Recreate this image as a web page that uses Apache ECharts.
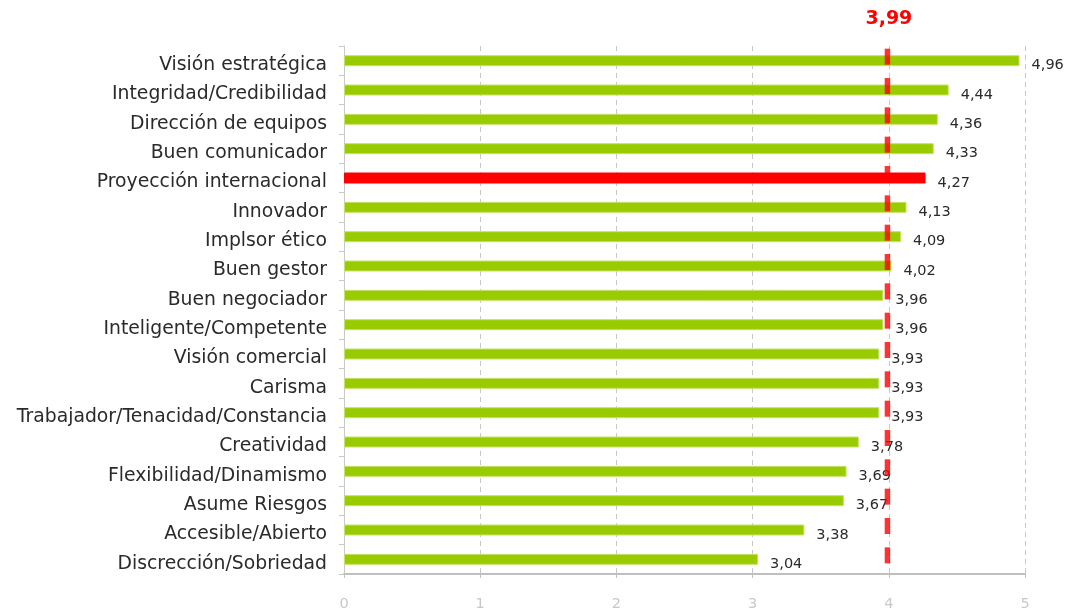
<!DOCTYPE html>
<html><head><meta charset="utf-8">
<script src="https://cdn.jsdelivr.net/npm/echarts@6/dist/echarts.min.js"></script>
<style>html,body{margin:0;padding:0;background:#fff}#c{width:1068px;height:612px}</style>
</head><body><div id="c"></div>
<script>
const categories = ["Visión estratégica","Integridad/Credibilidad","Dirección de equipos","Buen comunicador","Proyección internacional","Innovador","Implsor ético","Buen gestor","Buen negociador","Inteligente/Competente","Visión comercial","Carisma","Trabajador/Tenacidad/Constancia","Creatividad","Flexibilidad/Dinamismo","Asume Riesgos","Accesible/Abierto","Discrección/Sobriedad"];
const values = [4.96,4.44,4.36,4.33,4.27,4.13,4.09,4.02,3.96,3.96,3.93,3.93,3.93,3.78,3.69,3.67,3.38,3.04];
const highlighted = ["Proyección internacional"];
const average = 3.99;
const xTicks = [0,1,2,3,4,5];

const FONT = '"DejaVu Sans", Verdana, sans-serif';
const fmt = v => v.toFixed(2).replace('.', ',');
const chart = echarts.init(document.getElementById('c'));
chart.setOption({
  animation: false,
  grid: {left: 344, right: 43, top: 46, height: 529, containLabel: false},
  xAxis: {
    type: 'value', min: xTicks[0], max: xTicks[xTicks.length-1], interval: 1,
    axisLine: {show: true, onZero: false, lineStyle: {color: '#bfbfbf', width: 2}},
    axisTick: {show: true, length: 4, lineStyle: {color: '#bfbfbf'}},
    axisLabel: {color: '#c8c8c8', fontSize: 14.5, fontFamily: FONT, margin: 23},
    splitLine: {show: true, lineStyle: {color: '#c8c8c8', type: [5, 4], width: 1}}
  },
  yAxis: {
    type: 'category', data: categories, inverse: true,
    axisLine: {show: true, lineStyle: {color: '#c8c8c8', width: 1}},
    axisTick: {show: true, length: 5, lineStyle: {color: '#c8c8c8'}},
    axisLabel: {color: '#2a2a2a', fontSize: 18.8, fontFamily: FONT, margin: 17,
                formatter: v => '{c|' + v + '}',
                rich: {c: {fontSize: 18.8, fontFamily: FONT, color: '#2a2a2a', padding: [9, 0, 0, 0]}}}
  },
  series: [
    {
      type: 'bar', barWidth: 11,
      data: values.map((v, i) => ({
        value: v,
        itemStyle: {color: highlighted.includes(categories[i]) ? '#ff0000' : '#99cc00',
                    borderColor: highlighted.includes(categories[i]) ? '#ff0000' : '#c6e26a', borderWidth: 1}
      })),
      label: {show: true, position: 'right', distance: 12, offset: [0, 5],
              color: '#2a2a2a', fontSize: 14.5, fontFamily: FONT,
              formatter: p => fmt(p.value)},
      z: 2
    },
    {
      type: 'scatter', symbol: 'rect', symbolSize: [5.5, 16], symbolOffset: [0, -4],
      itemStyle: {color: '#ff0000'},
      data: categories.map(c => [average, c]),
      silent: true, z: 3
    }
  ]
});
const px = chart.convertToPixel({gridIndex: 0}, [average, categories[0]]);
chart.setOption({
  graphic: [{
    type: 'text', left: px[0] - 22, top: 10,
    style: {text: fmt(average), fill: '#ff0000', font: 'bold 19px "DejaVu Sans", Verdana, sans-serif'}
  }]
});
</script>
</body></html>
